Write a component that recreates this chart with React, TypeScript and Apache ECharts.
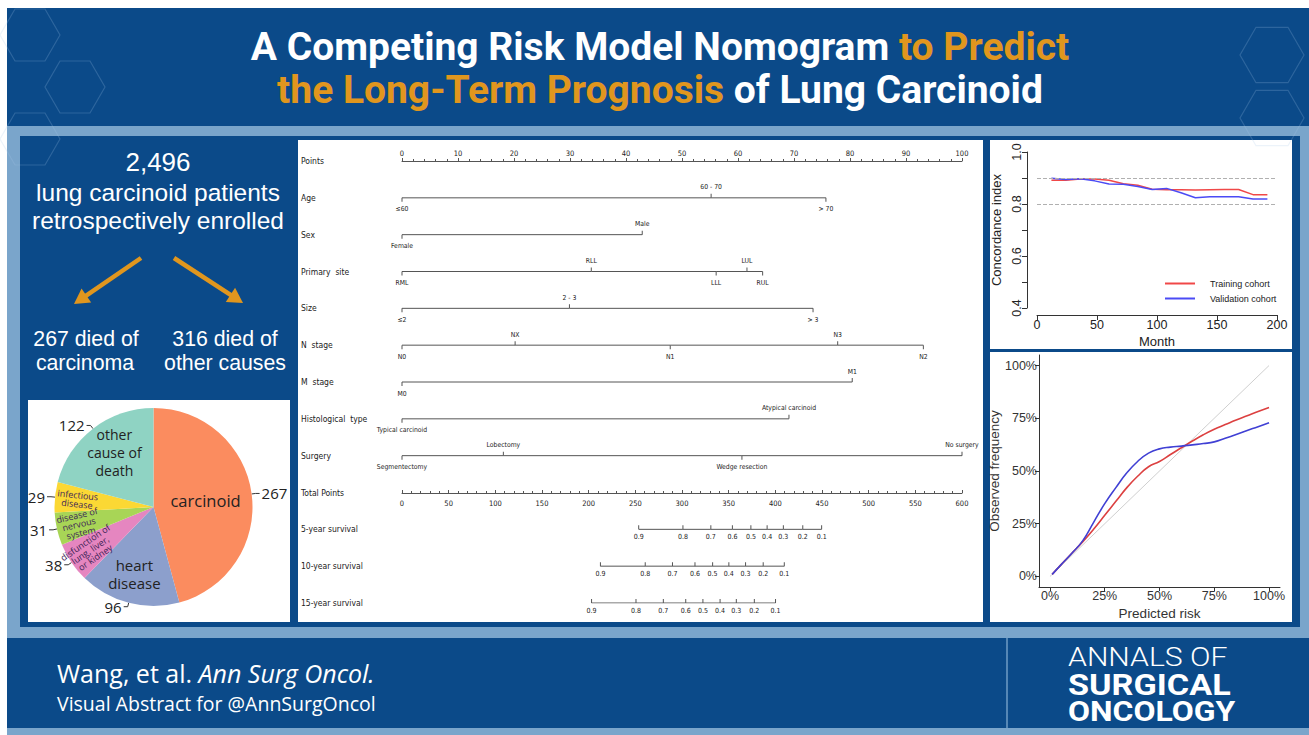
import React, { useEffect, useRef } from "react";
import * as echarts from "echarts";

// ---------------- data ----------------
const titleLine1White = "A Competing Risk Model Nomogram ";
const titleLine1Orange = "to Predict";
const titleLine2Orange = "the Long-Term Prognosis";
const titleLine2White = " of Lung Carcinoid";

const enrolledCount = "2,496";
const enrolledText = ["lung carcinoid patients", "retrospectively enrolled"];
const carcinomaDeaths = ["267 died of", "carcinoma"];
const otherDeaths = ["316 died of", "other causes"];

const deathCauses = [
  "carcinoid",
  "heart disease",
  "disfunction of lung, liver, or kidney",
  "disease of nervous system",
  "infectious disease",
  "other cause of death",
];
const deathCauseLabels = [
  "carcinoid",
  "heart\ndisease",
  "disfunction of\nlung, liver,\nor kidney",
  "disease of\nnervous\nsystem",
  "infectious\ndisease",
  "other\ncause of\ndeath",
];
const deathCounts = [267, 96, 38, 31, 29, 122];

const nomoRowNames = [
  "Points", "Age", "Sex", "Primary  site", "Size", "N  stage", "M  stage",
  "Histological  type", "Surgery", "Total Points", "5-year survival",
  "10-year survival", "15-year survival",
];
const ageLevels = ["≤60", "60 - 70", "> 70"];
const agePoints = [0, 55.2, 75.7];
const sexLevels = ["Female", "Male"];
const sexPoints = [0, 42.9];
const siteLevels = ["RML", "RLL", "LLL", "LUL", "RUL"];
const sitePoints = [0, 33.8, 56.1, 61.6, 64.4];
const sizeLevels = ["≤2", "2 - 3", "> 3"];
const sizePoints = [0, 29.9, 73.4];
const nStageLevels = ["N0", "NX", "N1", "N3", "N2"];
const nStagePoints = [0, 20.2, 47.9, 77.8, 93.1];
const mStageLevels = ["M0", "M1"];
const mStagePoints = [0, 80.4];
const histLevels = ["Typical carcinoid", "Atypical carcinoid"];
const histPoints = [0, 69.1];
const surgeryLevels = ["Segmentectomy", "Lobectomy", "Wedge resection", "No surgery"];
const surgeryPoints = [0, 18.1, 60.7, 100];

const survivalLabels = ["0.9", "0.8", "0.7", "0.6", "0.5", "0.4", "0.3", "0.2", "0.1"];
const surv5Total = [253.6, 301, 330.9, 354, 373.8, 391.2, 408.6, 429.4, 449.6];
const surv10Total = [212.6, 260.6, 289.8, 313.9, 332.8, 350.2, 368.1, 387, 409.6];
const surv15Total = [203.1, 250.7, 280, 304, 322.4, 340.8, 358.2, 377.5, 400.2];

const cindexMonths = [12, 24, 36, 48, 60, 72, 84, 96, 108, 120, 132, 144, 156, 168, 180, 192];
const trainingCindex = [0.891, 0.891, 0.896, 0.896, 0.891, 0.878, 0.872, 0.857, 0.855, 0.855, 0.854, 0.855, 0.856, 0.856, 0.836, 0.836];
const validationCindex = [0.899, 0.894, 0.897, 0.889, 0.877, 0.876, 0.867, 0.856, 0.86, 0.843, 0.824, 0.828, 0.828, 0.828, 0.819, 0.819];
const cindexRefLines = [0.9, 0.8];

const predictedRisk = [0.01, 0.05, 0.1, 0.15, 0.2, 0.25, 0.3, 0.35, 0.4, 0.45, 0.5, 0.55, 0.6, 0.65, 0.7, 0.75, 0.8, 0.85, 0.9, 0.95, 1.0];
const trainingObserved = [0.01, 0.055, 0.11, 0.165, 0.225, 0.29, 0.355, 0.42, 0.475, 0.52, 0.545, 0.578, 0.61, 0.642, 0.672, 0.698, 0.72, 0.742, 0.762, 0.782, 0.801];
const validationObserved = [0.01, 0.055, 0.11, 0.17, 0.258, 0.345, 0.42, 0.49, 0.545, 0.585, 0.605, 0.613, 0.618, 0.624, 0.63, 0.638, 0.655, 0.673, 0.692, 0.71, 0.729];
const riskTicks = [0, 0.25, 0.5, 0.75, 1];

const footerAuthors = "Wang, et al. ";
const footerJournal = "Ann Surg Oncol.";
const footerSub = "Visual Abstract for @AnnSurgOncol";
const logoLines = ["ANNALS OF", "SURGICAL", "ONCOLOGY"];

// ---------------- styles ----------------
const NARROW = "'Liberation Sans Narrow','DejaVu Sans Condensed','Liberation Sans',Arial,sans-serif";
const SANS = "'Liberation Sans',Arial,sans-serif";
const UI = "'Open Sans','Noto Sans',sans-serif";
const DARK = "#0b4a89";
const BAND = "#7aa5cb";
const ORANGE = "#e0961e";

function hexagon(cx: number, cy: number, r: number) {
  const pts: number[][] = [];
  for (let i = 0; i < 6; i++) {
    const a = (Math.PI / 3) * i;
    pts.push([cx + r * Math.cos(a), cy + r * Math.sin(a)]);
  }
  return {
    type: "polygon",
    z: -4,
    silent: true,
    shape: { points: pts },
    style: { fill: "none", stroke: "rgba(170,200,230,0.22)", lineWidth: 1.2 },
  };
}

function arrow(x1: number, y1: number, x2: number, y2: number) {
  const dx = x2 - x1, dy = y2 - y1;
  const len = Math.sqrt(dx * dx + dy * dy);
  const ux = dx / len, uy = dy / len;
  const bx = x2 - ux * 15, by = y2 - uy * 15;
  const nx = -uy, ny = ux;
  return [
    { type: "line", z: 5, shape: { x1, y1, x2: bx + ux * 2, y2: by + uy * 2 }, style: { stroke: ORANGE, lineWidth: 4.5 } },
    {
      type: "polygon",
      z: 5,
      shape: { points: [[x2, y2], [bx + nx * 8.5, by + ny * 8.5], [bx - nx * 8.5, by - ny * 8.5]] },
      style: { fill: ORANGE },
    },
  ];
}

function whiteText(x: number, y: number, text: string, fontSize: number) {
  return {
    type: "text", z: 10, x, y,
    style: { text, fill: "#fff", fontSize, fontFamily: SANS, align: "center", verticalAlign: "middle" },
  };
}

function varSeries(row: number, levels: string[], pts: number[]) {
  const items = levels.map((l, i) => ({ l, p: pts[i] })).sort((a, b) => a.p - b.p);
  return {
    type: "line",
    xAxisIndex: 0,
    yAxisIndex: 0,
    silent: true,
    symbol: "rect",
    symbolSize: [1, 4],
    lineStyle: { color: "#555", width: 1 },
    itemStyle: { color: "#555" },
    label: { fontSize: 6.8, color: "#222", fontFamily: NARROW },
    labelLayout: { hideOverlap: false },
    data: items.map((it, k) => {
      const up = k % 2 === 1;
      return {
        value: [it.p, row],
        symbolOffset: [0, up ? -2 : 2],
        label: { show: true, position: up ? "top" : "bottom", distance: up ? 3 : 4, formatter: it.l },
      };
    }),
  };
}

function survSeries(row: number, totals: number[]) {
  return {
    type: "line",
    xAxisIndex: 1,
    yAxisIndex: 0,
    silent: true,
    symbol: "rect",
    symbolSize: [1, 4],
    symbolOffset: [0, -2],
    lineStyle: { color: "#555", width: 1 },
    itemStyle: { color: "#555" },
    label: { show: true, position: "bottom", distance: 4, fontSize: 7, color: "#222", fontFamily: NARROW },
    data: totals.map((t, i) => ({ value: [t, row], label: { formatter: survivalLabels[i] } })),
  };
}

function buildOption() {
  const titleRich = {
    w: { fill: "#ffffff", fontSize: 39, fontWeight: "bold", fontFamily: "Roboto" },
    o: { fill: ORANGE, fontSize: 39, fontWeight: "bold", fontFamily: "Roboto" },
  };
  const graphics: any[] = [
    { type: "rect", z: -10, silent: true, shape: { x: 0, y: 0, width: 1309, height: 735 }, style: { fill: "#ffffff" } },
    { type: "rect", z: -9, silent: true, shape: { x: 7, y: 126, width: 1302, height: 609 }, style: { fill: BAND } },
    { type: "rect", z: -9, silent: true, shape: { x: 7, y: 8, width: 1302, height: 118 }, style: { fill: DARK } },
    { type: "rect", z: -8, silent: true, shape: { x: 20, y: 136, width: 1280, height: 491 }, style: { fill: DARK } },
    { type: "rect", z: -8, silent: true, shape: { x: 7, y: 638, width: 1302, height: 90 }, style: { fill: DARK } },
    hexagon(30, 35, 30), hexagon(75, 87, 30), hexagon(30, 139, 30),
    hexagon(1272, 55, 32), hexagon(1272, 118, 32),
    { type: "line", z: -3, silent: true, shape: { x1: 1007, y1: 638, x2: 1007, y2: 728 }, style: { stroke: "#6f9cc6", lineWidth: 1.5 } },
    { type: "rect", z: -6, silent: true, shape: { x: 28, y: 400, width: 262, height: 222 }, style: { fill: "#ffffff" } },
    { type: "rect", z: -6, silent: true, shape: { x: 298, y: 140, width: 685, height: 482 }, style: { fill: "#ffffff" } },
    { type: "rect", z: -6, silent: true, shape: { x: 990, y: 140, width: 302, height: 209 }, style: { fill: "#ffffff" } },
    { type: "rect", z: -6, silent: true, shape: { x: 990, y: 352, width: 302, height: 270 }, style: { fill: "#ffffff" } },
    {
      type: "text", z: 10, x: 660, y: 47,
      style: { text: `{w|${titleLine1White}}{o|${titleLine1Orange}}`, align: "center", verticalAlign: "middle", rich: titleRich },
    },
    {
      type: "text", z: 10, x: 660, y: 90,
      style: { text: `{o|${titleLine2Orange}}{w|${titleLine2White}}`, align: "center", verticalAlign: "middle", rich: titleRich },
    },
    whiteText(158, 162, enrolledCount, 26),
    whiteText(158, 192, enrolledText[0], 24.5),
    whiteText(158, 220, enrolledText[1], 24.5),
    ...arrow(141, 258, 74, 304),
    ...arrow(174, 258, 243, 303),
    whiteText(86, 339, carcinomaDeaths[0], 21.3),
    whiteText(85, 363, carcinomaDeaths[1], 21.3),
    whiteText(225, 339, otherDeaths[0], 21.3),
    whiteText(225, 363, otherDeaths[1], 21.3),
    {
      type: "text", z: 10, x: 57, y: 673,
      style: {
        text: `{r|${footerAuthors}}{i|${footerJournal}}`,
        verticalAlign: "middle",
        rich: {
          r: { fill: "#fff", fontSize: 25, fontFamily: UI },
          i: { fill: "#fff", fontSize: 25, fontFamily: UI, fontStyle: "italic" },
        },
      },
    },
    { type: "text", z: 10, x: 57, y: 703, style: { text: footerSub, fill: "#fff", fontSize: 19.5, fontFamily: UI, verticalAlign: "middle" } },
    {
      type: "text", z: 10, x: 1068, y: 684, scaleX: 1.14,
      style: {
        text: `{a|${logoLines[0]}}\n{b|${logoLines[1]}}\n{c|${logoLines[2]}}`,
        verticalAlign: "middle", align: "left",
        rich: {
          a: { fill: "#fff", fontSize: 26.5, fontWeight: 300, fontFamily: "Roboto", lineHeight: 28 },
          b: { fill: "#fff", fontSize: 30, fontWeight: "bold", fontFamily: "Roboto", lineHeight: 27 },
          c: { fill: "#fff", fontSize: 28, fontWeight: "bold", fontFamily: "Roboto", lineHeight: 27 },
        },
      },
    },
  ];

  const pieColors = ["#fb8c5f", "#8c9fcc", "#e586c0", "#a8d556", "#fbd834", "#8fd3c3"];
  const bigLabelIdx: Record<number, any> = {
    0: { fontSize: 16.5, lineHeight: 20 },
    1: { fontSize: 15, lineHeight: 18 },
    5: { fontSize: 14, lineHeight: 18 },
  };
  const bigOffsets: Record<number, number[]> = { 0: [0, 0], 1: [-6, 16], 5: [-7, -13] };

  const pieCenter = [153.5, 507];

  const series: any[] = [
    {
      type: "pie", silent: true, center: pieCenter, radius: [0, 99], startAngle: 90,
      labelLine: { show: false },
      itemStyle: { borderWidth: 0 },
      data: deathCauses.map((n, i) => ({
        name: n, value: deathCounts[i],
        itemStyle: { color: pieColors[i] },
        label: bigLabelIdx[i]
          ? { show: true, position: "inside", formatter: deathCauseLabels[i], color: "#222", fontFamily: UI, ...bigLabelIdx[i] }
          : { show: false },
      })),
      labelLayout: (p: any) => {
        const o = bigOffsets[p.dataIndex] || [0, 0];
        return { dx: o[0], dy: o[1], hideOverlap: false };
      },
    },
    {
      type: "pie", silent: true, center: pieCenter, radius: [48, 99], startAngle: 90,
      labelLine: { show: false },
      labelLayout: { hideOverlap: false },
      itemStyle: { borderWidth: 0 },
      data: deathCauses.map((n, i) => ({
        name: n, value: deathCounts[i],
        itemStyle: { color: "transparent" },
        label: i >= 2 && i <= 4
          ? { show: true, position: "inside", rotate: "radial", formatter: deathCauseLabels[i], color: "#3d2456", fontSize: 9, lineHeight: 9, fontFamily: UI, overflow: "none" }
          : { show: false },
      })),
    },
    {
      type: "pie", silent: true, center: pieCenter, radius: [0, 99], startAngle: 90,
      itemStyle: { color: "transparent", borderWidth: 0 },
      labelLayout: { hideOverlap: false },
      label: { show: true, position: "outside", formatter: "{c}", color: "#222", fontSize: 15, fontFamily: UI, distanceToLabelLine: 2 },
      labelLine: { show: true, length: 4, length2: 4, lineStyle: { color: "#333", width: 1 } },
      data: deathCauses.map((n, i) => ({ name: n, value: deathCounts[i] })),
    },
    varSeries(1, ageLevels, agePoints),
    varSeries(2, sexLevels, sexPoints),
    varSeries(3, siteLevels, sitePoints),
    varSeries(4, sizeLevels, sizePoints),
    varSeries(5, nStageLevels, nStagePoints),
    varSeries(6, mStageLevels, mStagePoints),
    varSeries(7, histLevels, histPoints),
    varSeries(8, surgeryLevels, surgeryPoints),
    survSeries(10, surv5Total),
    survSeries(11, surv10Total),
    survSeries(12, surv15Total),
    {
      name: "Training cohort", type: "line", xAxisIndex: 3, yAxisIndex: 2, silent: true, symbol: "none",
      lineStyle: { color: "#f04848", width: 1.5 }, itemStyle: { color: "#f04848" },
      data: cindexMonths.map((m, i) => [m, trainingCindex[i]]),
      markLine: {
        silent: true, symbol: "none", label: { show: false },
        lineStyle: { color: "#b0b0b0", type: "dashed", width: 1 },
        data: cindexRefLines.map((v) => ({ yAxis: v })),
      },
    },
    {
      name: "Validation cohort", type: "line", xAxisIndex: 3, yAxisIndex: 2, silent: true, symbol: "none",
      lineStyle: { color: "#4b4bf5", width: 1.5 }, itemStyle: { color: "#4b4bf5" },
      data: cindexMonths.map((m, i) => [m, validationCindex[i]]),
    },
    {
      name: "Ideal", type: "line", xAxisIndex: 4, yAxisIndex: 3, silent: true, symbol: "none",
      lineStyle: { color: "#cfcfcf", width: 1 },
      data: [[0, 0], [1, 1]],
    },
    {
      name: "Training", type: "line", xAxisIndex: 4, yAxisIndex: 3, silent: true, symbol: "none", smooth: true,
      lineStyle: { color: "#dc4040", width: 1.6 },
      data: predictedRisk.map((x, i) => [x, trainingObserved[i]]),
    },
    {
      name: "Validation", type: "line", xAxisIndex: 4, yAxisIndex: 3, silent: true, symbol: "none", smooth: true,
      lineStyle: { color: "#4040d4", width: 1.6 },
      data: predictedRisk.map((x, i) => [x, validationObserved[i]]),
    },
  ];

  const axisGray = { color: "#333", width: 1 };

  return {
    animation: false,
    backgroundColor: "#ffffff",
    textStyle: { fontFamily: SANS },
    graphic: { elements: graphics },
    legend: {
      data: ["Training cohort", "Validation cohort"],
      orient: "vertical", left: 1160, top: 274, itemWidth: 30, itemHeight: 2, itemGap: 6,
      icon: "rect", selectedMode: false,
      textStyle: { fontSize: 9, color: "#222", fontFamily: SANS, padding: [0, 0, 0, 10] },
    },
    grid: [
      { left: 402, top: 161, width: 560, height: 442, outerBoundsMode: "none" },
      { left: 402, top: 492, width: 560, height: 1, outerBoundsMode: "none" },
      { left: 1037, top: 152, right: 32, bottom: 427, outerBoundsMode: "none" },
      { left: 1039, top: 355, right: 29, bottom: 148, outerBoundsMode: "none" },
    ],
    xAxis: [
      {
        gridIndex: 0, type: "value", min: 0, max: 100, interval: 10, position: "top", z: 5,
        axisLine: { show: true, onZero: false, lineStyle: { color: "#555", width: 1 } },
        axisTick: { show: true, length: 3, lineStyle: { color: "#555" } },
        minorTick: { show: true, splitNumber: 5, length: 2, lineStyle: { color: "#555" } },
        axisLabel: { fontSize: 7.5, color: "#222", margin: 4, fontFamily: NARROW },
        splitLine: { show: false },
      },
      { gridIndex: 0, type: "value", min: 0, max: 600, position: "bottom", show: false },
      {
        gridIndex: 1, type: "value", min: 0, max: 600, interval: 50, position: "bottom", z: 5,
        axisLine: { show: true, onZero: false, lineStyle: { color: "#555", width: 1 } },
        axisTick: { show: true, inside: true, length: 3, lineStyle: { color: "#555" } },
        minorTick: { show: true, splitNumber: 5, length: 2, lineStyle: { color: "#555" } },
        axisLabel: { fontSize: 7.5, color: "#222", margin: 6, fontFamily: NARROW },
        splitLine: { show: false },
      },
      {
        gridIndex: 2, type: "value", min: 0, max: 200, interval: 50, offset: 7, z: 5,
        axisLine: { show: true, onZero: false, lineStyle: axisGray },
        axisTick: { show: true, length: 5, lineStyle: axisGray },
        axisLabel: { fontSize: 12.5, color: "#222", margin: 3, fontFamily: SANS },
        splitLine: { show: false },
        name: "Month", nameLocation: "middle", nameGap: 20,
        nameTextStyle: { fontSize: 13, color: "#222", fontFamily: SANS },
      },
      {
        gridIndex: 3, type: "value", min: -0.05, max: 1.05, z: 5,
        axisLine: { show: true, onZero: false, lineStyle: axisGray },
        axisTick: { show: true, length: 4, lineStyle: axisGray, customValues: riskTicks },
        axisLabel: {
          fontSize: 12.5, color: "#333", margin: 2, fontFamily: SANS, customValues: riskTicks,
          formatter: (v: number) => Math.round(v * 100) + "%",
        },
        splitLine: { show: false },
        name: "Predicted risk", nameLocation: "middle", nameGap: 19,
        nameTextStyle: { fontSize: 13.5, color: "#333", fontFamily: SANS },
      },
    ],
    yAxis: [
      {
        gridIndex: 0, type: "value", min: 0, max: 12, interval: 1, inverse: true,
        axisLine: { show: false }, axisTick: { show: false }, splitLine: { show: false },
        axisLabel: {
          show: true, align: "left", margin: 101, fontSize: 8.5, color: "#222", fontFamily: NARROW,
          formatter: (v: number) => nomoRowNames[Math.round(v)] || "",
        },
      },
      { gridIndex: 1, type: "value", min: 0, max: 1, show: false },
      {
        gridIndex: 2, type: "value", min: 0.4, max: 1.0, interval: 0.1, offset: 10, z: 5,
        axisLine: { show: true, onZero: false, lineStyle: axisGray },
        axisTick: { show: true, length: 5, lineStyle: axisGray },
        axisLabel: {
          fontSize: 12.5, color: "#222", margin: 4, rotate: 90, fontFamily: SANS,
          formatter: (v: number) => (Math.round(v * 10) % 2 === 0 ? v.toFixed(1) : ""),
        },
        splitLine: { show: false },
        name: "Concordance index", nameLocation: "middle", nameGap: 24,
        nameTextStyle: { fontSize: 13, color: "#222", fontFamily: SANS },
      },
      {
        gridIndex: 3, type: "value", min: -0.05, max: 1.05, z: 5,
        axisLine: { show: true, onZero: false, lineStyle: axisGray },
        axisTick: { show: true, length: 4, lineStyle: axisGray, customValues: riskTicks },
        axisLabel: {
          fontSize: 12.5, color: "#333", margin: 2, fontFamily: SANS, customValues: riskTicks,
          formatter: (v: number) => Math.round(v * 100) + "%",
        },
        splitLine: { show: false },
        name: "Observed frequency", nameLocation: "middle", nameGap: 33,
        nameTextStyle: { fontSize: 13.5, color: "#333", fontFamily: SANS },
      },
    ],
    series,
  };
}

export default function App() {
  const ref = useRef<HTMLDivElement>(null);
  useEffect(() => {
    if (!ref.current) return;
    const chart = echarts.init(ref.current, null, { renderer: "svg" });
    chart.setOption(buildOption() as any);
    return () => chart.dispose();
  }, []);
  return (
    <div
      ref={ref}
      style={{ position: "absolute", left: 0, top: 0, width: 1309, height: 735 }}
    />
  );
}
